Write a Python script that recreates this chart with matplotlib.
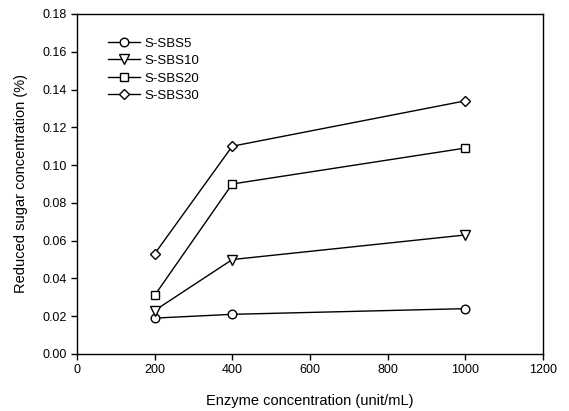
import matplotlib
matplotlib.use("Agg")
import matplotlib.pyplot as plt

plt.rcParams['font.family'] = ['Liberation Sans', 'DejaVu Sans']

x = [200, 400, 1000]
series_names = ["S-SBS5", "S-SBS10", "S-SBS20", "S-SBS30"]
s5 = [0.019, 0.021, 0.024]
s10 = [0.023, 0.050, 0.063]
s20 = [0.031, 0.090, 0.109]
s30 = [0.053, 0.110, 0.134]
markers = ['o', 'v', 's', 'D']
msizes = [6.2, 7, 6.3, 5.6]

fig = plt.figure(figsize=(5.69, 4.11), dpi=100)
ax = fig.add_axes([0.1353, 0.1387, 0.8187, 0.8273])
for name, ys, m, ms in zip(series_names, [s5, s10, s20, s30], markers, msizes):
    ax.plot(x, ys, color='black', lw=1, marker=m, ms=ms, mfc='white', mec='black', mew=1, label=name)

ax.set_xlim(0, 1200)
ax.set_ylim(0, 0.18)
ax.set_xticks(range(0, 1201, 200))
ax.set_yticks([i * 0.02 for i in range(10)])
ax.set_yticklabels([f"{i*0.02:.2f}" for i in range(10)])
ax.tick_params(direction='out', length=4, labelsize=9, width=1)
ax.set_xlabel("Enzyme concentration (unit/mL)", fontsize=10.5, labelpad=13)
ax.set_ylabel("Reduced sugar concentration (%)", fontsize=10.5, labelpad=10)
for sp in ax.spines.values():
    sp.set_linewidth(1)
ax.legend(loc='upper left', bbox_to_anchor=(0.056, 0.947), frameon=False, fontsize=9.5,
          handlelength=2.4, labelspacing=0.4, handletextpad=0.35, borderaxespad=0)
fig.savefig("out.png", dpi=100)
